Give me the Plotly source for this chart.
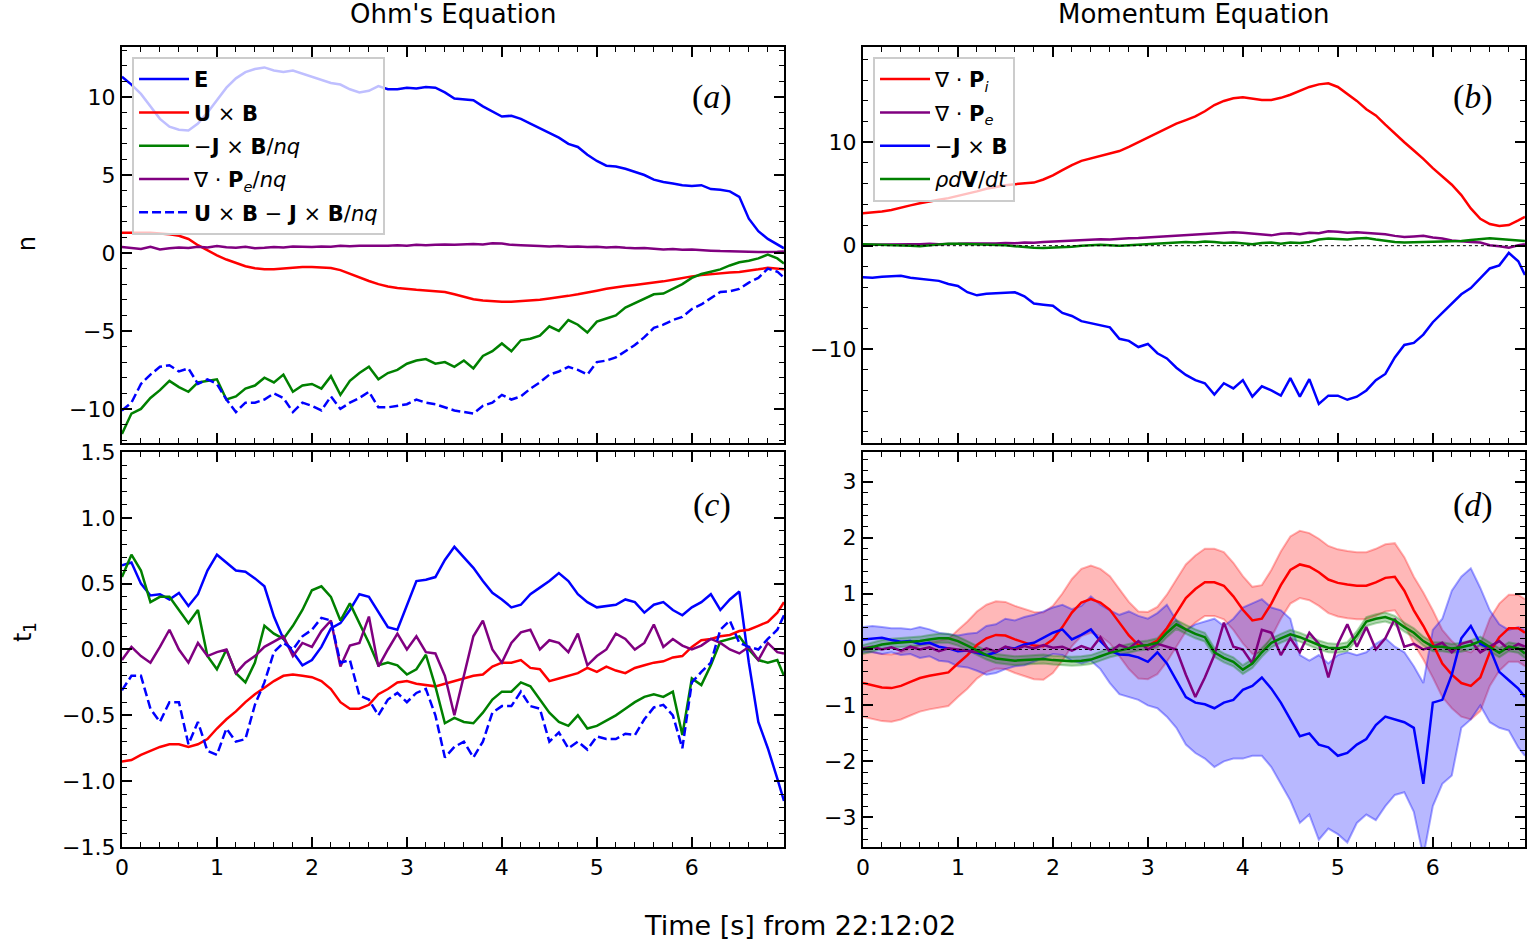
import plotly.graph_objects as go

# time grid [s] from 22:12:02
t = [round(0.1 * i, 1) for i in range(70)] + [6.97]

# ---- panel (a): Ohm's equation, normal component
a_E = [11.3, 10.8, 10.2, 9.4, 8.6, 8.1, 7.9, 7.85, 8.3, 9.0,
       9.8, 10.6, 11.2, 11.6, 11.8, 11.9, 11.7, 11.6, 11.7, 11.5,
       11.3, 11.1, 10.9, 10.8, 10.5, 10.3, 10.4, 10.7, 10.5, 10.5,
       10.6, 10.55, 10.65, 10.6, 10.3, 9.9, 9.85, 9.8, 9.4, 9.1,
       8.75, 8.8, 8.6, 8.3, 8.0, 7.7, 7.4, 7.0, 6.8, 6.3,
       5.9, 5.6, 5.55, 5.4, 5.2, 5.0, 4.7, 4.55, 4.45, 4.35,
       4.3, 4.35, 4.1, 4.05, 3.95, 3.6, 2.2, 1.4, 0.9, 0.55,
       0.3]
a_UxB = [1.3, 1.32, 1.3, 1.3, 1.25, 1.2, 1.1, 0.9, 0.5, 0.15,
         -0.15, -0.42, -0.65, -0.85, -0.98, -1.05, -1.05, -1.0, -0.95, -0.9,
         -0.9, -0.92, -0.97, -1.1, -1.35, -1.58, -1.8, -2.0, -2.15, -2.25,
         -2.32, -2.36, -2.4, -2.45, -2.5, -2.65, -2.82, -2.97, -3.05, -3.1,
         -3.12, -3.12, -3.08, -3.05, -3.0, -2.92, -2.85, -2.75, -2.65, -2.55,
         -2.42, -2.3, -2.2, -2.12, -2.05, -1.98, -1.9, -1.82, -1.72, -1.6,
         -1.5, -1.42, -1.35, -1.3, -1.25, -1.22, -1.15, -1.05, -0.95, -1.0,
         -1.05]
a_JxB = [-11.6, -10.3, -10.0, -9.3, -8.8, -8.2, -8.6, -8.9, -8.3, -8.2,
         -8.1, -9.4, -9.2, -8.7, -8.5, -8.0, -8.3, -7.8, -8.9, -8.5,
         -8.4, -8.7, -7.9, -9.1, -8.2, -7.7, -7.3, -8.1, -7.7, -7.5,
         -7.1, -6.9, -6.8, -7.1, -7.0, -7.3, -6.9, -7.4, -6.6, -6.3,
         -5.8, -6.3, -5.6, -5.5, -5.3, -4.7, -5.0, -4.3, -4.6, -5.1,
         -4.4, -4.2, -4.0, -3.5, -3.2, -2.9, -2.65, -2.6, -2.3, -2.0,
         -1.6, -1.35, -1.2, -1.05, -0.8, -0.6, -0.5, -0.35, -0.1, -0.35,
         -0.67]
a_Pe = [0.38, 0.3, 0.25, 0.4, 0.22, 0.3, 0.35, 0.32, 0.4, 0.35,
        0.45, 0.36, 0.34, 0.4, 0.3, 0.33, 0.38, 0.35, 0.42, 0.4,
        0.38, 0.42, 0.4, 0.46, 0.43, 0.46, 0.45, 0.48, 0.46, 0.5,
        0.47, 0.52, 0.5, 0.53, 0.55, 0.52, 0.56, 0.58, 0.55, 0.62,
        0.6, 0.52, 0.5, 0.45, 0.44, 0.42, 0.45, 0.4, 0.42, 0.38,
        0.4, 0.35, 0.38, 0.33, 0.3, 0.32, 0.25, 0.22, 0.25, 0.2,
        0.22, 0.17, 0.15, 0.12, 0.12, 0.1, 0.08, 0.06, 0.05, 0.08,
        0.1]
a_sum = [-10.1, -9.6, -8.4, -7.8, -7.3, -7.2, -7.6, -7.4, -8.4, -8.1,
         -8.4, -9.4, -10.2, -9.6, -9.6, -9.4, -9.0, -9.3, -10.2, -9.6,
         -9.8, -10.1, -9.2, -10.0, -9.6, -9.3, -8.9, -9.9, -9.9, -9.8,
         -9.7, -9.4, -9.6, -9.7, -9.9, -10.1, -10.2, -10.3, -9.8, -9.6,
         -9.1, -9.4, -9.2, -8.7, -8.3, -7.8, -7.6, -7.3, -7.5, -7.8,
         -7.0, -6.9, -6.7, -6.3, -5.9, -5.4, -4.8, -4.6, -4.3, -4.1,
         -3.6, -3.3, -2.9, -2.5, -2.45, -2.3, -1.9, -1.6, -1.0, -1.2,
         -1.58]

# ---- panel (b): momentum equation, normal component
b_Pi = [3.13, 3.2, 3.3, 3.45, 3.7, 3.9, 4.1, 4.3, 4.45, 4.6,
        4.8, 5.0, 5.25, 5.5, 5.7, 5.85, 5.95, 6.0, 6.1, 6.4,
        6.8, 7.3, 7.8, 8.2, 8.45, 8.7, 8.9, 9.15, 9.55, 10.0,
        10.5, 10.95, 11.4, 11.8, 12.15, 12.5, 13.0, 13.6, 14.0, 14.25,
        14.35, 14.25, 14.1, 14.1, 14.3, 14.6, 15.0, 15.35, 15.6, 15.7,
        15.35, 14.7, 14.0, 13.2, 12.6, 11.7, 10.8, 10.0, 9.2, 8.4,
        7.5, 6.7, 5.9, 4.9, 3.6, 2.6, 2.1, 1.9, 2.0, 2.45,
        2.8]
b_Pe = [0.1, 0.12, 0.1, 0.14, 0.12, 0.15, 0.13, 0.18, 0.15, 0.2,
        0.18, 0.22, 0.2, 0.24, 0.22, 0.25, 0.23, 0.3, 0.28, 0.35,
        0.4, 0.45, 0.5, 0.55, 0.6, 0.62, 0.6, 0.68, 0.72, 0.75,
        0.8, 0.9, 0.88, 0.95, 1.0, 1.05, 1.1, 1.15, 1.2, 1.3,
        1.25, 1.15, 1.05, 1.0, 1.15, 1.2, 1.1, 1.25, 1.2, 1.4,
        1.35, 1.25, 1.3, 1.25, 1.15, 1.1, 0.95, 0.85, 0.9, 0.95,
        0.8, 0.7, 0.5, 0.4, 0.35, 0.3, 0.05, -0.05, -0.2, 0.05,
        0.15]
b_JxB = [-3.06, -3.1, -3.0, -2.95, -2.9, -3.1, -3.2, -3.35, -3.4, -3.7,
         -3.9, -4.5, -4.8, -4.65, -4.6, -4.5, -4.5, -4.9, -5.6, -5.7,
         -5.8, -6.5, -6.8, -7.3, -7.5, -7.7, -7.9, -9.0, -9.2, -9.8,
         -9.5, -10.4, -10.9, -11.8, -12.5, -13.0, -13.3, -14.4, -13.3, -13.8,
         -13.0, -14.6, -13.6, -14.0, -14.5, -12.8, -14.6, -12.9, -15.3, -14.5,
         -14.5, -14.9, -14.6, -14.0, -13.0, -12.4, -10.8, -9.6, -9.4, -8.6,
         -7.4, -6.5, -5.6, -4.7, -4.1, -3.1, -2.2, -1.9, -0.7, -1.5,
         -2.84]
b_dVdt = [0.15, 0.12, 0.15, 0.1, 0.05, 0.0, -0.05, 0.05, 0.15, 0.2,
          0.18, 0.15, 0.15, 0.1, 0.08, 0.05, -0.05, -0.15, -0.2, -0.22,
          -0.2, -0.15, -0.1, 0.0, 0.05, 0.1, 0.05, 0.0, 0.05, 0.1,
          0.15, 0.2, 0.2, 0.3, 0.35, 0.3, 0.4, 0.35, 0.25, 0.3,
          0.2, 0.15, 0.25, 0.3, 0.2, 0.3, 0.25, 0.35, 0.6, 0.7,
          0.65, 0.6, 0.7, 0.75, 0.6, 0.45, 0.35, 0.3, 0.3, 0.35,
          0.38, 0.4, 0.38, 0.45, 0.55, 0.6, 0.72, 0.65, 0.55, 0.5,
          0.45]

# ---- panel (c): Ohm's equation, t1 component
c_E = [0.64, 0.66, 0.5, 0.41, 0.42, 0.38, 0.43, 0.33, 0.42, 0.6,
       0.72, 0.66, 0.6, 0.59, 0.54, 0.48, 0.25, 0.08, -0.02, -0.12,
       -0.08, 0.02, 0.16, 0.2, 0.3, 0.42, 0.4, 0.28, 0.17, 0.15,
       0.33, 0.52, 0.53, 0.55, 0.68, 0.78, 0.7, 0.62, 0.52, 0.43,
       0.38, 0.32, 0.34, 0.42, 0.47, 0.52, 0.58, 0.52, 0.42, 0.36,
       0.32, 0.33, 0.34, 0.38, 0.36, 0.28, 0.34, 0.36, 0.3, 0.26,
       0.32, 0.36, 0.42, 0.3, 0.38, 0.44, -0.1, -0.55, -0.75, -0.98,
       -1.15]
c_UxB = [-0.85, -0.84, -0.8, -0.77, -0.74, -0.72, -0.72, -0.74, -0.72, -0.68,
         -0.6, -0.53, -0.47, -0.4, -0.34, -0.29, -0.24, -0.2, -0.19, -0.2,
         -0.21, -0.24, -0.3, -0.4, -0.45, -0.45, -0.42, -0.34, -0.3, -0.25,
         -0.24, -0.26, -0.27, -0.28, -0.26, -0.24, -0.22, -0.2, -0.19, -0.13,
         -0.1, -0.1, -0.08, -0.14, -0.15, -0.24, -0.22, -0.2, -0.18, -0.14,
         -0.17, -0.13, -0.16, -0.18, -0.14, -0.12, -0.1, -0.09, -0.06, -0.05,
         0.02, 0.07, 0.08, 0.1, 0.11, 0.14, 0.15, 0.18, 0.21, 0.28,
         0.36]
c_JxB = [0.55, 0.72, 0.6, 0.36, 0.4, 0.4, 0.3, 0.2, 0.3, -0.05,
         -0.15, 0.0, -0.18, -0.25, -0.1, 0.18, 0.12, 0.08, 0.18, 0.3,
         0.45, 0.48, 0.4, 0.22, 0.35, 0.2, 0.05, -0.12, -0.1, -0.12,
         -0.19, -0.15, -0.04, -0.28, -0.56, -0.52, -0.55, -0.56, -0.48, -0.38,
         -0.32, -0.32, -0.25, -0.28, -0.38, -0.48, -0.55, -0.58, -0.5, -0.6,
         -0.58, -0.54, -0.5, -0.45, -0.4, -0.36, -0.34, -0.36, -0.32, -0.65,
         -0.22, -0.27, -0.12, 0.06, 0.08, 0.1, 0.0, -0.08, -0.1, -0.08,
         -0.2]
c_Pe = [-0.08, 0.02, -0.05, -0.1, 0.02, 0.15, 0.0, -0.1, 0.05, -0.05,
        -0.02, 0.0, -0.18, -0.1, -0.05, 0.02, 0.06, 0.1, -0.05, 0.05,
        0.02, 0.14, 0.22, -0.13, 0.03, 0.05, 0.25, -0.13, 0.0, 0.12,
        0.0, 0.1, -0.02, -0.03, -0.2, -0.5, -0.2, 0.1, 0.22, 0.0,
        -0.1, 0.05, 0.13, 0.15, 0.0, 0.07, 0.05, -0.02, 0.12, -0.12,
        -0.05, 0.0, 0.12, 0.08, 0.0, 0.05, 0.19, 0.02, 0.08, 0.03,
        0.0, 0.03, 0.08, 0.05, 0.0, -0.03, 0.02, -0.08, 0.05, -0.02,
        -0.03]
c_sum = [-0.31, -0.2, -0.2, -0.45, -0.55, -0.4, -0.4, -0.72, -0.55, -0.77,
         -0.8, -0.6, -0.7, -0.68, -0.42, -0.25, -0.02, 0.05, 0.0, 0.1,
         0.15, 0.24, 0.22, -0.1, -0.08, -0.35, -0.38, -0.5, -0.38, -0.33,
         -0.4, -0.33, -0.3, -0.5, -0.82, -0.74, -0.7, -0.82, -0.7, -0.48,
         -0.43, -0.43, -0.32, -0.43, -0.45, -0.7, -0.63, -0.75, -0.7, -0.76,
         -0.66, -0.68, -0.68, -0.64, -0.65, -0.53, -0.44, -0.42, -0.5, -0.75,
         -0.25, -0.17, -0.1, 0.15, 0.22, 0.05, 0.02, 0.0, 0.08, 0.15,
         0.26]

# ---- panel (d): momentum equation, t1 component (with uncertainty bands)
d_Pi = [-0.6, -0.64, -0.68, -0.69, -0.65, -0.58, -0.51, -0.47, -0.44, -0.41,
        -0.25, -0.1, 0.08, 0.2, 0.26, 0.25, 0.18, 0.12, 0.07, 0.06,
        0.18, 0.4, 0.66, 0.84, 0.9, 0.84, 0.71, 0.48, 0.25, 0.08,
        0.07, 0.16, 0.38, 0.65, 0.92, 1.08, 1.2, 1.2, 1.14, 0.95,
        0.71, 0.52, 0.55, 0.82, 1.15, 1.42, 1.52, 1.48, 1.38, 1.25,
        1.19, 1.16, 1.14, 1.14, 1.2, 1.28, 1.3, 1.05, 0.7, 0.42,
        0.1, -0.25, -0.45, -0.6, -0.65, -0.5, -0.05, 0.22, 0.38, 0.38,
        0.3]
d_Pi_err = 0.6
d_Pe = [0.02, 0.05, 0.0, 0.04, -0.02, 0.05, 0.0, 0.04, -0.03, 0.02,
        0.0, -0.03, -0.05, 0.02, -0.04, 0.05, 0.0, 0.06, 0.02, 0.08,
        0.03, 0.05, -0.02, 0.06, 0.0, 0.22, -0.05, 0.08, 0.02, 0.15,
        0.0, 0.1, 0.05, 0.0, -0.45, -0.85, -0.5, -0.1, 0.48, 0.05,
        0.0, -0.25, 0.35, 0.3, -0.1, 0.2, -0.05, 0.3, 0.1, -0.5,
        0.1, 0.45, 0.05, 0.4, 0.0, 0.2, 0.55, 0.05, 0.1, 0.0,
        0.05, 0.12, -0.05, 0.1, 0.15, -0.05, 0.05, 0.15, 0.0, 0.1,
        0.05]
d_JxB = [0.18, 0.2, 0.21, 0.17, 0.14, 0.15, 0.1, 0.12, 0.05, 0.02,
         -0.03, -0.02, -0.06, -0.1, -0.05, 0.04, 0.02, 0.09, 0.12, 0.21,
         0.3, 0.36, 0.18, 0.26, 0.36, 0.15, -0.02, -0.09, -0.1, -0.14,
         -0.22, -0.05, -0.25, -0.55, -0.85, -0.95, -0.98, -1.05, -0.95, -0.9,
         -0.72, -0.65, -0.5, -0.7, -0.95, -1.25, -1.55, -1.5, -1.7, -1.75,
         -1.9, -1.85, -1.7, -1.6, -1.35, -1.2, -1.25, -1.3, -1.4, -2.4,
         -0.95, -0.9, -0.45, 0.2, 0.42, 0.1, 0.02, -0.4, -0.55, -0.7,
         -0.85]
d_JxB_hi = [0.4, 0.42, 0.4, 0.38, 0.38, 0.36, 0.4, 0.36, 0.3, 0.28,
            0.25, 0.28, 0.3, 0.42, 0.45, 0.55, 0.52, 0.58, 0.62, 0.68,
            0.75, 0.8, 0.72, 0.78, 0.95, 0.8, 0.7, 0.62, 0.68, 0.6,
            0.55, 0.65, 0.8, 0.52, 0.35, 0.45, 0.5, 0.55, 0.42, 0.55,
            0.75, 0.82, 0.9, 0.75, 0.7, 0.55, -0.1, -0.2, -0.1, -0.25,
            -0.1, -0.05, -0.1, -0.05, 0.1, 0.2, 0.05, -0.05, -0.3, -0.6,
            0.35, 0.55, 1.05, 1.3, 1.45, 1.1, 0.7, 0.45, 0.35, 0.4,
            0.35]
d_JxB_lo = [-0.05, -0.05, -0.08, -0.05, -0.1, -0.08, -0.15, -0.12, -0.2, -0.22,
            -0.3, -0.32, -0.38, -0.45, -0.42, -0.35, -0.3, -0.28, -0.22, -0.15,
            -0.08, -0.1, -0.2, -0.25, -0.2, -0.35, -0.6, -0.8, -0.85, -0.9,
            -1.0, -1.05, -1.2, -1.4, -1.7, -1.85, -1.95, -2.1, -2.0, -1.95,
            -1.95, -1.9, -1.9, -2.1, -2.4, -2.7, -3.1, -2.95, -3.4, -3.2,
            -3.3, -3.45, -3.1, -2.95, -3.05, -2.8, -2.6, -2.55, -2.9, -3.7,
            -2.8, -2.4, -2.25, -1.4, -1.25, -1.0, -1.3, -1.4, -1.45, -1.75,
            -1.9]
d_dVdt = [0.0, 0.05, 0.09, 0.11, 0.12, 0.13, 0.15, 0.18, 0.2, 0.2,
          0.15, 0.07, -0.02, -0.1, -0.16, -0.18, -0.2, -0.19, -0.18, -0.17,
          -0.19, -0.2, -0.21, -0.2, -0.18, -0.12, -0.06, -0.02, 0.02, 0.06,
          0.08, 0.12, 0.3, 0.45, 0.36, 0.28, 0.22, -0.05, -0.15, -0.22,
          -0.36, -0.25, -0.05, 0.12, 0.2, 0.27, 0.22, 0.15, 0.08, 0.03,
          0.02, 0.05, 0.25, 0.5, 0.55, 0.58, 0.52, 0.4, 0.3, 0.15,
          0.05, 0.05, 0.02, 0.04, 0.08, 0.15, 0.05, -0.06, 0.05, 0.02,
          -0.07]
d_dVdt_err = 0.08

BLUE, RED, GREEN, PURPLE = "#0000ff", "#ff0000", "#008000", "#800080"

fig = go.Figure()


def line(y, color, xa, ya, name=None, legend=None, dash="solid", width=2.5):
    fig.add_trace(go.Scatter(
        x=t, y=y, mode="lines", xaxis=xa, yaxis=ya,
        line=dict(color=color, width=width, dash=dash),
        name=name, showlegend=name is not None,
        legend=legend, legendgroup=name, hoverinfo="skip"))


def band(lo, hi, fill, edge, xa, ya):
    fig.add_trace(go.Scatter(x=t, y=lo, mode="lines", xaxis=xa, yaxis=ya,
                             line=dict(color=edge, width=2),
                             showlegend=False, hoverinfo="skip"))
    fig.add_trace(go.Scatter(x=t, y=hi, mode="lines", xaxis=xa, yaxis=ya,
                             line=dict(color=edge, width=2), fill="tonexty",
                             fillcolor=fill, showlegend=False, hoverinfo="skip"))


DASH = "9px,4px"

# (a)
line(a_E, BLUE, "x", "y", "<b>E</b>", "legend")
line(a_UxB, RED, "x", "y", "<b>U</b> × <b>B</b>", "legend")
line(a_JxB, GREEN, "x", "y", "−<b>J</b> × <b>B</b>/<i>nq</i>", "legend")
line(a_Pe, PURPLE, "x", "y", "∇ · <b>P</b><sub><i>e</i></sub>/<i>nq</i>", "legend")
line(a_sum, BLUE, "x", "y", "<b>U</b> × <b>B</b> − <b>J</b> × <b>B</b>/<i>nq</i>",
     "legend", dash=DASH)

# (b)
line(b_Pi, RED, "x2", "y2", "∇ · <b>P</b><sub><i>i</i></sub>", "legend2")
line(b_Pe, PURPLE, "x2", "y2", "∇ · <b>P</b><sub><i>e</i></sub>", "legend2")
line(b_JxB, BLUE, "x2", "y2", "−<b>J</b> × <b>B</b>", "legend2")
line(b_dVdt, GREEN, "x2", "y2", "<i>ρd</i><b>V</b>/<i>dt</i>", "legend2")

# (c)
line(c_E, BLUE, "x3", "y3")
line(c_UxB, RED, "x3", "y3")
line(c_JxB, GREEN, "x3", "y3")
line(c_Pe, PURPLE, "x3", "y3")
line(c_sum, BLUE, "x3", "y3", dash=DASH)

# (d)
band([v - d_Pi_err for v in d_Pi], [v + d_Pi_err for v in d_Pi],
     "rgba(255,0,0,0.28)", "rgba(255,0,0,0.3)", "x4", "y4")
band(d_JxB_lo, d_JxB_hi, "rgba(0,0,255,0.28)", "rgba(0,0,255,0.35)", "x4", "y4")
band([v - d_dVdt_err for v in d_dVdt], [v + d_dVdt_err for v in d_dVdt],
     "rgba(0,128,0,0.3)", "rgba(0,128,0,0.3)", "x4", "y4")
line(d_Pi, RED, "x4", "y4")
line(d_JxB, BLUE, "x4", "y4")
line(d_Pe, PURPLE, "x4", "y4")
line(d_dVdt, GREEN, "x4", "y4")

left = [0.0797, 0.5124]
right = [0.564, 0.9967]
top = [0.530, 0.950]
bottom = [0.1018, 0.5207]


def axis(domain, anchor, dtick, minor, rng, labels=True, fmt=None):
    d = dict(domain=domain, anchor=anchor, range=rng, dtick=dtick, tick0=0,
             automargin=False,
             showline=True, linecolor="black", linewidth=2, mirror="allticks",
             ticks="inside", ticklen=10, tickwidth=1.5, tickcolor="black",
             showgrid=False, zeroline=False, showticklabels=labels,
             tickfont=dict(family="DejaVu Sans", size=22, color="black"),
             minor=dict(ticks="inside", ticklen=5, tickwidth=1,
                        tickcolor="black", dtick=minor, tick0=0))
    if fmt:
        d["tickformat"] = fmt
    return d


legend_style = dict(yanchor="top", xanchor="left", y=0.9396,
                    bgcolor="rgba(255,255,255,0.75)", bordercolor="#cccccc",
                    borderwidth=2, itemwidth=50,
                    font=dict(family="DejaVu Sans", size=21),
                    tracegroupgap=3, traceorder="grouped")

xr = [0, 6.97]
fig.update_layout(
    template="none",
    width=1530, height=943,
    margin=dict(l=0, r=0, t=0, b=0, autoexpand=False),
    paper_bgcolor="white", plot_bgcolor="white",
    font=dict(family="DejaVu Sans", color="black"),
    xaxis=axis(left, "y", 1, 0.2, xr, labels=False),
    yaxis=axis(top, "x", 5, 1, [-12.2, 13.2]),
    xaxis2=axis(right, "y2", 1, 0.2, xr, labels=False),
    yaxis2=axis(top, "x2", 10, 2, [-19.1, 19.2]),
    xaxis3=axis(left, "y3", 1, 0.2, xr),
    yaxis3=axis(bottom, "x3", 0.5, 0.1, [-1.5, 1.5], fmt=".1f"),
    xaxis4=axis(right, "y4", 1, 0.2, xr),
    yaxis4=axis(bottom, "x4", 1, 0.2, [-3.53, 3.53]),
    legend=dict(legend_style, x=0.0863),
    legend2=dict(legend_style, x=0.5706),
    shapes=[
        dict(type="line", xref="x2 domain", yref="y2", x0=0, x1=1, y0=0, y1=0,
             line=dict(color="black", width=1, dash="dot")),
        dict(type="line", xref="x4 domain", yref="y4", x0=0, x1=1, y0=0, y1=0,
             line=dict(color="black", width=1, dash="dot")),
    ],
)

ann = [
    dict(text="Ohm's Equation", x=0.2961, y=0.985, size=26),
    dict(text="Momentum Equation", x=0.7804, y=0.985, size=26),
    dict(text="Time [s] from 22:12:02", x=0.523, y=0.019, size=27),
    dict(text="n", x=0.0176, y=0.742, size=24, angle=-90),
    dict(text="t<sub>1</sub>", x=0.0165, y=0.330, size=24, angle=-90),
]
for a in ann:
    fig.add_annotation(text=a["text"], x=a["x"], y=a["y"], xref="paper",
                       yref="paper", showarrow=False, textangle=a.get("angle", 0),
                       xanchor="center", yanchor="middle",
                       font=dict(family="DejaVu Sans", size=a["size"],
                                 color="black"))

for lab, x, y in [("a", 0.4654, 0.8971), ("b", 0.9627, 0.8971),
                  ("c", 0.4654, 0.4645), ("d", 0.9627, 0.4645)]:
    fig.add_annotation(text="(<i>%s</i>)" % lab, x=x, y=y, xref="paper",
                       yref="paper", showarrow=False,
                       xanchor="center", yanchor="middle",
                       font=dict(family="Liberation Serif", size=34,
                                 color="black"))

# drop the page's default body margin so the figure sits at the window origin
fig.write_html("out.html", config={"displayModeBar": False},
               post_script="document.body.style.margin='0';")
